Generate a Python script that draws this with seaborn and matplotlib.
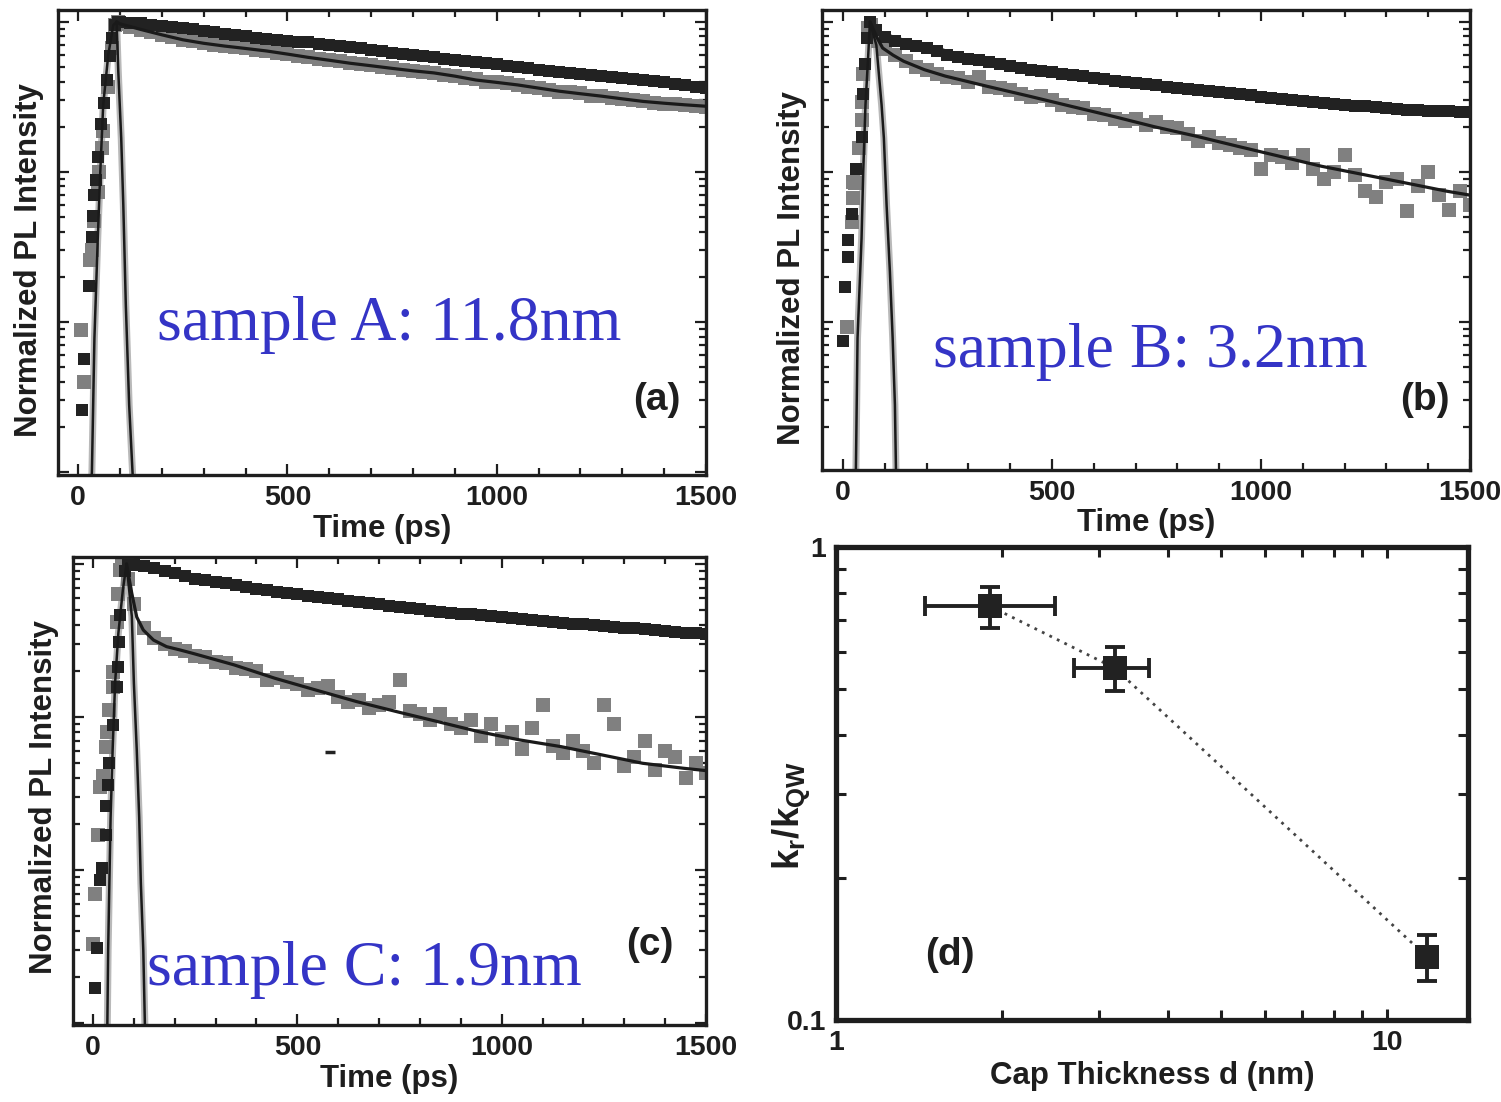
import numpy as np
import pandas as pd
import matplotlib
matplotlib.use("Agg")
import matplotlib.pyplot as plt
import seaborn as sns
from matplotlib.ticker import MultipleLocator, LogLocator, NullFormatter, FixedLocator, FixedFormatter

sns.set_style("ticks")
plt.rcParams['font.family'] = ['Liberation Sans', 'DejaVu Sans']
plt.rcParams['mathtext.fontset'] = 'custom'
plt.rcParams['mathtext.rm'] = 'Liberation Sans:bold'
plt.rcParams['mathtext.it'] = 'Liberation Sans:bold'

# ---------------- data ----------------
t_grid = np.arange(100, 1501, 25)  # sampling times of the decay part (ps)

# panel (a) sample A
a_black_rise_t = [10, 14, 25, 34, 36, 39, 42, 47, 55, 63, 68, 76, 80, 88, 95]
a_black_rise_v = [0.0026, 0.0057, 0.0174, 0.037, 0.051, 0.07, 0.089, 0.126, 0.21, 0.29, 0.41, 0.59, 0.78, 0.95, 1.0]
a_black_decay = [1.00, 0.99, 0.98, 0.96, 0.945, 0.93, 0.91, 0.89, 0.87, 0.85, 0.83, 0.815, 0.80, 0.785, 0.77,
                 0.76, 0.75, 0.74, 0.73, 0.715, 0.705, 0.69, 0.68, 0.665, 0.65, 0.635, 0.62, 0.61, 0.60, 0.59,
                 0.58, 0.57, 0.56, 0.55, 0.54, 0.53, 0.52, 0.51, 0.50, 0.49, 0.48, 0.472, 0.464, 0.456, 0.449,
                 0.442, 0.435, 0.43, 0.424, 0.418, 0.413, 0.404, 0.395, 0.387, 0.378, 0.37, 0.363]
a_gray_rise_t = [8, 14, 29, 33, 39, 47, 49, 56, 60, 72, 80, 88, 95]
a_gray_rise_v = [0.0088, 0.004, 0.026, 0.030, 0.047, 0.074, 0.10, 0.144, 0.186, 0.37, 0.67, 0.955, 1.0]
a_gray_decay = [0.97, 0.92, 0.88, 0.85, 0.82, 0.79, 0.76, 0.745, 0.725, 0.70, 0.69, 0.68, 0.665, 0.65, 0.64,
                0.625, 0.615, 0.595, 0.58, 0.57, 0.555, 0.545, 0.53, 0.52, 0.515, 0.50, 0.49, 0.48, 0.47, 0.46,
                0.455, 0.445, 0.435, 0.42, 0.415, 0.40, 0.395, 0.39, 0.38, 0.37, 0.36, 0.35, 0.34, 0.34, 0.335,
                0.32, 0.32, 0.31, 0.305, 0.30, 0.295, 0.29, 0.285, 0.285, 0.28, 0.275, 0.272]
a_fit_t = [92, 100, 125, 150, 200, 250, 300, 350, 400, 450, 500, 550, 600, 650, 700, 750, 800, 850, 900,
           950, 1000, 1050, 1100, 1150, 1200, 1250, 1300, 1350, 1400, 1450, 1500]
a_fit_v = [1.0, 0.97, 0.93, 0.89, 0.82, 0.76, 0.72, 0.69, 0.665, 0.64, 0.61, 0.58, 0.555, 0.53, 0.51, 0.49,
           0.472, 0.457, 0.435, 0.41, 0.395, 0.38, 0.362, 0.345, 0.332, 0.32, 0.307, 0.295, 0.287, 0.28, 0.274]
a_irf_t = [31, 33, 39, 47, 53, 60, 72, 84, 92, 96, 103, 108, 114, 122, 130, 132]
a_irf_v = [8e-4, 1e-3, 7.8e-3, 0.036, 0.1, 0.28, 0.6, 0.95, 1.0, 0.47, 0.168, 0.06, 0.013, 0.0028, 1e-3, 8e-4]

# panel (b) sample B
b_black_rise_t = [1, 5, 13, 13, 21, 31, 45, 49, 53, 57, 65, 80]
b_black_rise_v = [0.0075, 0.017, 0.027, 0.035, 0.052, 0.104, 0.172, 0.33, 0.52, 0.78, 1.0, 0.88]
b_black_decay = [0.79, 0.75, 0.715, 0.69, 0.665, 0.64, 0.605, 0.585, 0.57, 0.555, 0.537, 0.52, 0.505, 0.492,
                 0.478, 0.468, 0.46, 0.452, 0.443, 0.433, 0.424, 0.414, 0.405, 0.397, 0.39, 0.383, 0.377, 0.37,
                 0.365, 0.359, 0.353, 0.347, 0.342, 0.336, 0.33, 0.324, 0.318, 0.313, 0.307, 0.302, 0.297, 0.292,
                 0.288, 0.284, 0.28, 0.277, 0.274, 0.27, 0.266, 0.262, 0.26, 0.258, 0.256, 0.255, 0.254, 0.252, 0.251]
b_gray_rise_t = [9, 21, 23, 25, 29, 39, 45, 45, 47, 61, 68, 85]
b_gray_rise_v = [0.0093, 0.046, 0.067, 0.086, 0.084, 0.144, 0.222, 0.294, 0.448, 0.91, 0.95, 0.75]
b_gray_decay = [0.66, 0.60, 0.55, 0.50, 0.48, 0.45, 0.43, 0.42, 0.40, 0.43, 0.37, 0.36, 0.35, 0.33, 0.315,
                0.32, 0.30, 0.28, 0.27, 0.265, 0.245, 0.24, 0.225, 0.22, 0.225, 0.205, 0.215, 0.20, 0.195, 0.18,
                0.16, 0.17, 0.155, 0.15, 0.145, 0.14, 0.105, 0.13, 0.125, 0.115, 0.13, 0.105, 0.09, 0.10, 0.13,
                0.095, 0.075, 0.068, 0.085, 0.09, 0.055, 0.08, 0.10, 0.07, 0.056, 0.075, 0.06]
b_fit_t = [65, 80, 95, 120, 145, 195, 245, 345, 445, 545, 645, 745, 845, 945, 1045, 1145, 1245, 1345, 1445, 1500]
b_fit_v = [1.0, 0.8, 0.67, 0.6, 0.547, 0.48, 0.435, 0.372, 0.32, 0.274, 0.235, 0.2, 0.173, 0.148, 0.127,
           0.109, 0.096, 0.0845, 0.0743, 0.07]
b_irf_t = [30, 31, 35, 44.6, 48.6, 54, 60.6, 64.6, 80, 92.5, 98, 104.5, 112.4, 119, 124.4, 127, 128]
b_irf_v = [8e-4, 1e-3, 7.8e-3, 0.036, 0.1, 0.28, 0.6, 1.0, 0.7, 0.28, 0.168, 0.06, 0.0216, 0.0078, 0.0028, 0.001, 8e-4]

# panel (c) sample C
c_black_rise_t = [5, 9, 17, 21, 32, 32, 37, 40, 50, 58, 62, 64, 66, 78, 86]
c_black_rise_v = [0.0017, 0.0031, 0.0086, 0.0103, 0.017, 0.026, 0.036, 0.05, 0.089, 0.158, 0.213, 0.31, 0.464, 0.9, 1.0]
c_black_decay = [0.99, 0.97, 0.94, 0.90, 0.87, 0.835, 0.80, 0.78, 0.765, 0.745, 0.727, 0.71, 0.69, 0.675, 0.657,
                 0.645, 0.632, 0.62, 0.608, 0.597, 0.587, 0.576, 0.565, 0.555, 0.545, 0.535, 0.524, 0.515, 0.505,
                 0.496, 0.487, 0.48, 0.474, 0.468, 0.463, 0.456, 0.45, 0.443, 0.436, 0.43, 0.424, 0.419, 0.413,
                 0.408, 0.403, 0.398, 0.393, 0.388, 0.384, 0.38, 0.375, 0.37, 0.365, 0.36, 0.356, 0.352, 0.349]
c_gray_rise_t = [1, 5, 13, 17, 25, 32, 35, 40, 50, 50, 58, 62, 66, 70, 85]
c_gray_rise_v = [0.0033, 0.007, 0.017, 0.035, 0.041, 0.064, 0.08, 0.111, 0.158, 0.198, 0.42, 0.64, 0.91, 1.0, 0.8]
c_gray_decay = [0.55, 0.38, 0.33, 0.30, 0.28, 0.27, 0.25, 0.245, 0.23, 0.225, 0.21, 0.205, 0.20, 0.175, 0.18,
                0.17, 0.165, 0.15, 0.155, 0.16, 0.135, 0.125, 0.13, 0.115, 0.12, 0.125, 0.175, 0.11, 0.105, 0.095,
                0.105, 0.09, 0.085, 0.095, 0.075, 0.09, 0.072, 0.08, 0.062, 0.085, 0.12, 0.065, 0.058, 0.07, 0.06,
                0.05, 0.12, 0.09, 0.048, 0.055, 0.07, 0.045, 0.06, 0.055, 0.04, 0.05, 0.043]
c_fit_t = [82, 95, 107, 123, 148, 180, 213, 245, 345, 445, 545, 645, 745, 845, 945, 1045, 1145, 1245, 1345, 1445, 1500]
c_fit_v = [1.0, 0.64, 0.45, 0.37, 0.318, 0.288, 0.274, 0.26, 0.219, 0.179, 0.15, 0.126, 0.108, 0.093, 0.080,
           0.0707, 0.064, 0.0565, 0.0498, 0.0462, 0.0446]
c_irf_t = [34, 35, 37, 40, 43, 48, 54, 62, 73, 82, 95, 100, 107, 113, 117, 123, 127, 128]
c_irf_v = [7e-4, 9.5e-4, 3e-3, 8.2e-3, 0.022, 0.061, 0.166, 0.352, 0.676, 1.0, 0.453, 0.166, 0.061, 0.022,
           8.2e-3, 3e-3, 9.5e-4, 7e-4]
c_stray_t = [580]
c_stray_v = [0.059]

# panel (d)
cap_thickness = [1.9, 3.2, 11.8]
kr_ratio = [0.75, 0.555, 0.136]
cap_err_lo = [0.45, 0.5, 0.5]
cap_err_hi = [0.6, 0.5, 0.5]
kr_err = [0.075, 0.06, 0.015]

sample_labels = ["sample A: 11.8nm", "sample B: 3.2nm", "sample C: 1.9nm"]
panel_tags = ["(a)", "(b)", "(c)", "(d)"]

# ---------------- figure ----------------
W, H = 1501, 1102
fig = plt.figure(figsize=(W / 100, H / 100), dpi=100)

def fr(l, t, r, b):
    return [l / W, 1 - b / H, (r - l) / W, (b - t) / H]

BLACK = '#222222'
GRAY = '#808080'
BLUE = '#3434c6'
TXT = '#1e1e1e'
FS_TICK = 20.5
FS_LAB = 22.5

def decay_panel(rect, ylim, xlim, bt, bv, gt, gv, ft, fv, it, iv, label, tag, lab_pos, tag_pos,
                ylab_xy, gray_band):
    ax = fig.add_axes(rect)
    ax.set_yscale('log')
    ax.set_facecolor('white')
    # IRF (light)
    sns.lineplot(x=it, y=iv, ax=ax, color='#b9b9b9', lw=5, sort=False, estimator=None, zorder=1)
    # data: gray sample
    n_rise_g = len(gt) - len(t_grid)
    if gray_band:
        sns.lineplot(x=gt[n_rise_g:], y=gv[n_rise_g:], ax=ax, color=GRAY, lw=6.5, sort=False,
                     estimator=None, zorder=2)
    sns.scatterplot(x=gt, y=gv, ax=ax, color=GRAY, marker='s', s=115, linewidth=0, zorder=2)
    # data: black reference
    n_rise_b = len(bt) - len(t_grid)
    sns.lineplot(x=bt[n_rise_b:], y=bv[n_rise_b:], ax=ax, color=BLACK, lw=6.5, sort=False,
                 estimator=None, zorder=3)
    sns.scatterplot(x=bt, y=bv, ax=ax, color=BLACK, marker='s', s=70, linewidth=0, zorder=3)
    # fit & IRF dark
    sns.lineplot(x=ft, y=fv, ax=ax, color='#1a1a1a', lw=2.3, sort=False, estimator=None, zorder=4)
    sns.lineplot(x=it, y=iv, ax=ax, color='#1a1a1a', lw=1.8, sort=False, estimator=None, zorder=4)
    ax.set_xlim(*xlim)
    ax.set_ylim(*ylim)
    ax.xaxis.set_major_locator(FixedLocator([0, 500, 1000, 1500]))
    ax.xaxis.set_minor_locator(MultipleLocator(100))
    ax.yaxis.set_major_locator(LogLocator(base=10))
    ax.yaxis.set_minor_locator(LogLocator(base=10, subs=np.arange(2, 10)))
    ax.yaxis.set_major_formatter(NullFormatter())
    ax.yaxis.set_minor_formatter(NullFormatter())
    ax.tick_params(which='both', direction='in', top=True, right=True, width=1.6, color=TXT,
                   labelsize=FS_TICK, pad=7, labelcolor=TXT)
    ax.tick_params(which='major', length=8)
    ax.tick_params(which='minor', length=5)
    for lbl in ax.get_xticklabels():
        lbl.set_fontweight('bold')
    for sp in ax.spines.values():
        sp.set_linewidth(2.4)
        sp.set_color(TXT)
    ax.set_xlabel('Time (ps)', fontsize=FS_LAB, fontweight='bold', color=TXT, labelpad=2)
    ax.set_ylabel('Normalized PL Intensity', fontsize=FS_LAB, fontweight='bold', color=TXT)
    ax.yaxis.set_label_coords(*ylab_xy)
    ax.text(lab_pos[0], lab_pos[1], label, transform=ax.transAxes, fontsize=46, color=BLUE,
            family='Liberation Serif', ha='left', va='baseline', zorder=6)
    ax.text(tag_pos[0], tag_pos[1], tag, transform=ax.transAxes, fontsize=28, color=TXT,
            fontweight='bold', ha='center', va='center', zorder=6)
    return ax

ax_a = decay_panel(fr(58, 10, 706, 475), (9.55e-4, 1.2), (-48, 1500),
                   a_black_rise_t + list(t_grid), a_black_rise_v + a_black_decay,
                   a_gray_rise_t + list(t_grid), a_gray_rise_v + a_gray_decay,
                   a_fit_t, a_fit_v, a_irf_t, a_irf_v,
                   sample_labels[0], panel_tags[0], (0.153, 0.29), (0.924, 0.161), (-0.021, 0.462), True)
ax_b = decay_panel(fr(822, 10, 1470, 470), (1.03e-3, 1.2), (-50, 1500),
                   b_black_rise_t + list(t_grid), b_black_rise_v + b_black_decay,
                   b_gray_rise_t + list(t_grid), b_gray_rise_v + b_gray_decay,
                   b_fit_t, b_fit_v, b_irf_t, b_irf_v,
                   sample_labels[1], panel_tags[1], (0.171, 0.224), (0.93, 0.152), (-0.023, 0.44), False)
ax_c = decay_panel(fr(73, 557, 706, 1025), (9.7e-4, 1.11), (-49, 1500),
                   c_black_rise_t + list(t_grid), c_black_rise_v + c_black_decay,
                   c_gray_rise_t + list(t_grid), c_gray_rise_v + c_gray_decay,
                   c_fit_t, c_fit_v, c_irf_t, c_irf_v,
                   sample_labels[2], panel_tags[2], (0.117, 0.085), (0.912, 0.171), (-0.022, 0.487), False)
sns.scatterplot(x=c_stray_t, y=c_stray_v, ax=ax_c, color=BLACK, marker='_', s=60, linewidth=2.5, zorder=3)

# ---------------- panel (d) ----------------
ax_d = fig.add_axes(fr(836, 547, 1468, 1020))
ax_d.set_xscale('log')
ax_d.set_yscale('log')
sns.lineplot(x=cap_thickness, y=kr_ratio, ax=ax_d, color='#444444', lw=2.0, linestyle=(0, (1.0, 2.0)),
             sort=False, estimator=None, zorder=2)
ax_d.errorbar(cap_thickness, kr_ratio, xerr=[cap_err_lo, cap_err_hi], yerr=kr_err, fmt='none',
              ecolor=BLACK, elinewidth=2.8, capsize=7, capthick=2.8, zorder=3)
sns.scatterplot(x=cap_thickness, y=kr_ratio, ax=ax_d, color=BLACK, marker='s', s=300, linewidth=0, zorder=4)
ax_d.set_xlim(1, 14)
ax_d.set_ylim(0.1, 1)
ax_d.xaxis.set_major_locator(FixedLocator([1, 10]))
ax_d.xaxis.set_major_formatter(FixedFormatter(['1', '10']))
ax_d.xaxis.set_minor_locator(FixedLocator([2, 3, 4, 5, 6, 7, 8, 9]))
ax_d.xaxis.set_minor_formatter(NullFormatter())
ax_d.yaxis.set_major_locator(FixedLocator([0.1, 1]))
ax_d.yaxis.set_major_formatter(FixedFormatter(['0.1', '1']))
ax_d.yaxis.set_minor_locator(FixedLocator([0.2, 0.3, 0.4, 0.5, 0.6, 0.7, 0.8, 0.9]))
ax_d.yaxis.set_minor_formatter(NullFormatter())
ax_d.tick_params(which='both', direction='in', top=True, right=True, width=2.2, color=TXT,
                 labelsize=FS_TICK, pad=7, labelcolor=TXT)
ax_d.tick_params(which='major', length=8)
ax_d.tick_params(which='minor', length=7)
for lbl in ax_d.get_xticklabels() + ax_d.get_yticklabels():
    lbl.set_fontweight('bold')
for sp in ax_d.spines.values():
    sp.set_linewidth(3.8)
    sp.set_color(TXT)
ax_d.set_xlabel('Cap Thickness d (nm)', fontsize=FS_LAB, fontweight='bold', color=TXT, labelpad=4)
ax_d.set_ylabel(r'k$_{\mathrm{r}}$/k$_{\mathrm{QW}}$', fontsize=FS_LAB + 4, fontweight='bold', color=TXT)
ax_d.yaxis.set_label_coords(-0.038, 0.433)
ax_d.text(0.18, 0.137, panel_tags[3], transform=ax_d.transAxes, fontsize=28, color=TXT,
          fontweight='bold', ha='center', va='center')

fig.savefig('out.png', dpi=100, facecolor='white')
